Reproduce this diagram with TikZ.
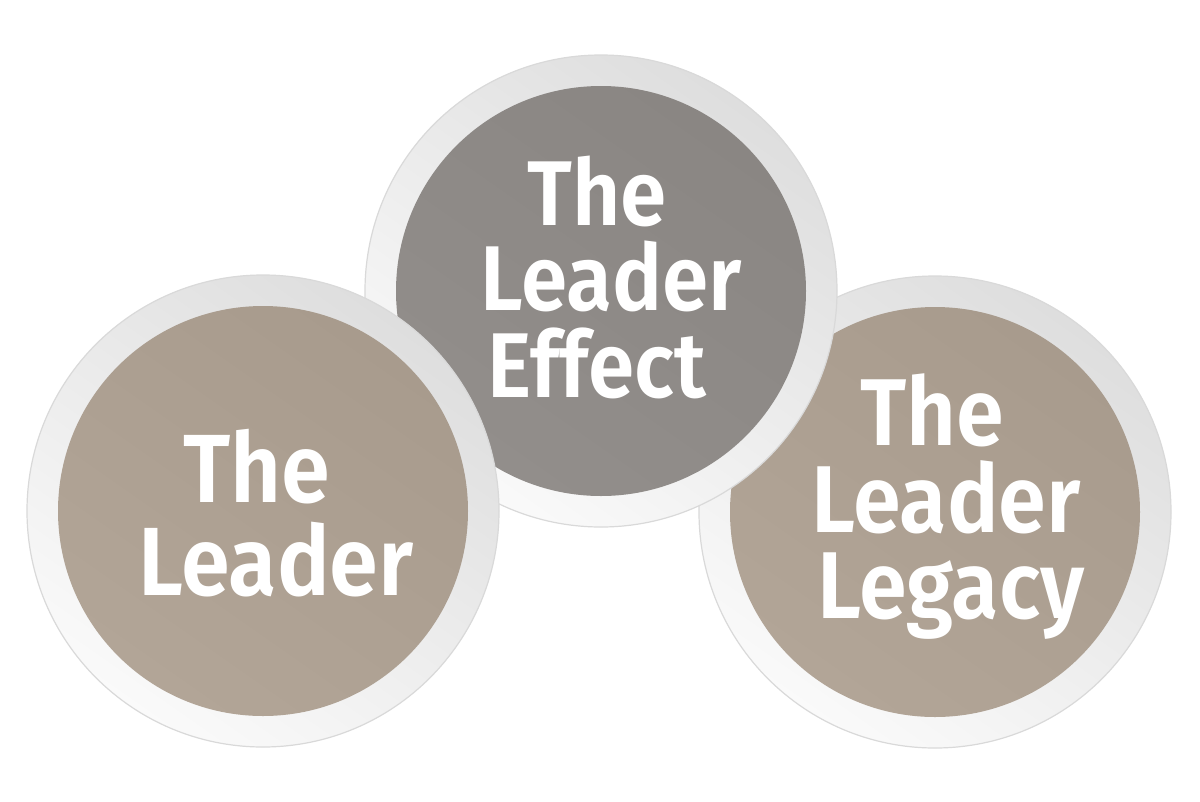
\documentclass[tikz,border=0pt]{standalone}
\usepackage{fontspec}
\setmainfont{Fira Sans}[UprightFont={* Medium}, BoldFont={* SemiBold}]
\newcommand{\nrw}[1]{\scalebox{0.91}[1]{#1}}
\begin{document}
\begin{tikzpicture}[x=1pt,y=-1pt]
\useasboundingbox[fill=white] (0,0) rectangle (1200,801);
\tikzset{
  rim/.style={circle, inner sep=0pt, minimum size=472pt, draw=black!15, line width=1.2pt,
    top color=black!13, bottom color=black!2, shading angle=-35},
  tancore/.style={circle, inner sep=0pt, minimum size=410pt,
    top color={rgb,255:red,168;green,155;blue,141}, bottom color={rgb,255:red,178;green,165;blue,151}, shading angle=-35},
  graycore/.style={circle, inner sep=0pt, minimum size=410pt,
    top color={rgb,255:red,138;green,134;blue,131}, bottom color={rgb,255:red,146;green,142;blue,139}, shading angle=-35},
  lbl/.style={text=white, anchor=base, inner sep=0pt, font=\bfseries\fontsize{97}{97}\selectfont},
  lblm/.style={lbl, font=\bfseries\fontsize{92}{92}\selectfont},
  lblr/.style={lbl, font=\bfseries\fontsize{95}{95}\selectfont}
}
% right circle (bottom layer)
\node[rim] (Ro) at (935,512) {};
\node[tancore] (Ri) at (935,512) {};
% middle circle
\node[rim] (Mo) at (601,291) {};
\node[graycore] (Mi) at (601,291) {};
% left circle (top layer)
\node[rim] (Lo) at (263,511) {};
\node[tancore] (Li) at (263,511) {};
% labels
\node[lbl] (L1) at (257,502) {\nrw{The}};
\node[lbl] (L2) at (276,595) {\nrw{Leader}};
\node[lblm] (M1) at (597,225) {\nrw{The}};
\node[lblm] (M2) at (611,310) {\nrw{Leader}};
\node[lblm] (M3) at (597,397) {\nrw{Effect}};
\node[lblr] (R1) at (932,445) {\nrw{The}};
\node[lblr] (R2) at (946,532) {\nrw{Leader}};
\node[lblr] (R3) at (951,618) {\nrw{Legacy}};
\end{tikzpicture}
\end{document}
